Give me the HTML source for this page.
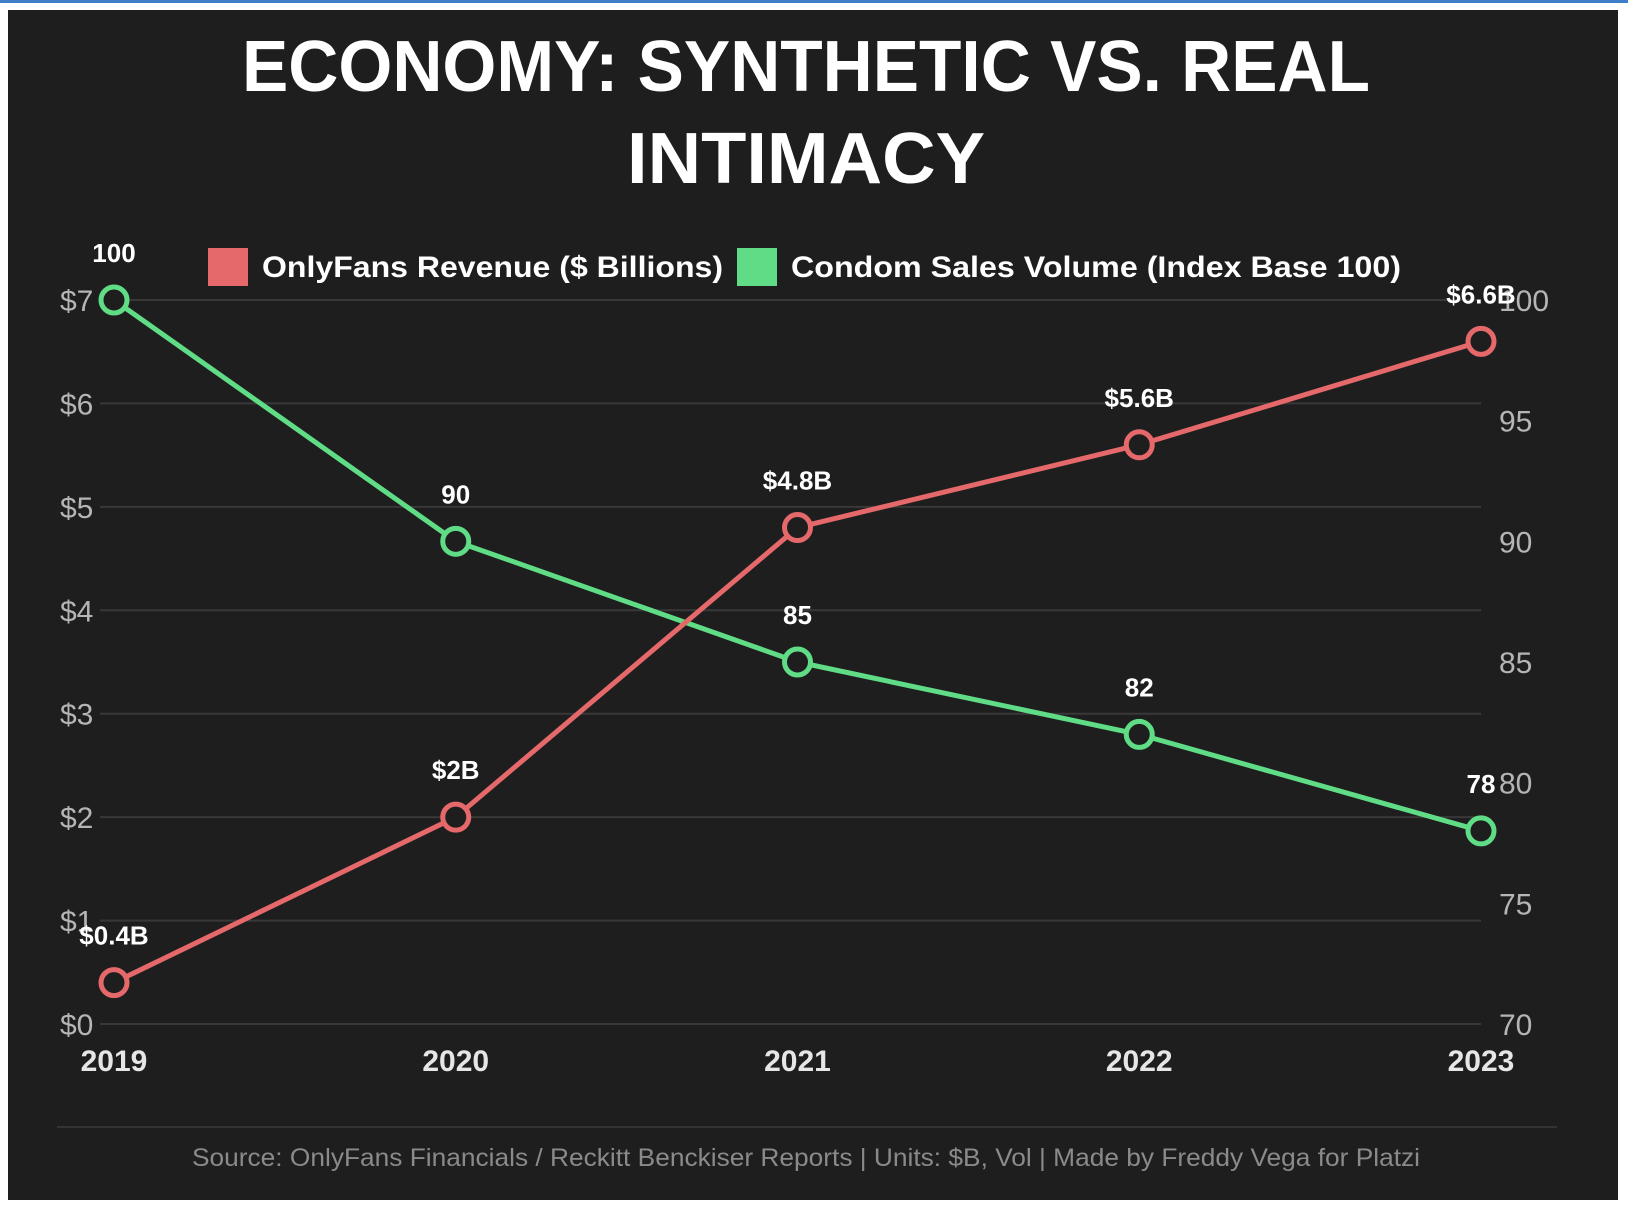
<!DOCTYPE html>
<html><head><meta charset="utf-8"><style>
html,body{margin:0;padding:0;background:#fff;width:1628px;height:1208px;overflow:hidden}
svg{display:block}
text{font-family:"Liberation Sans",sans-serif}
</style></head><body>
<svg width="1628" height="1208" viewBox="0 0 1628 1208">
<rect x="0" y="0" width="1628" height="3" fill="#3d7dca"/>
<rect x="8" y="10" width="1610" height="1190" fill="#1e1e1e"/>
<text x="806" y="91" text-anchor="middle" fill="#fff" font-weight="bold" font-size="72" textLength="1128" lengthAdjust="spacingAndGlyphs">ECONOMY: SYNTHETIC VS. REAL</text>
<text x="806" y="183" text-anchor="middle" fill="#fff" font-weight="bold" font-size="72" textLength="358" lengthAdjust="spacingAndGlyphs">INTIMACY</text>
<g>
<rect x="208" y="248" width="40" height="38" fill="#e5696a"/>
<text x="262" y="277" fill="#fff" font-weight="bold" font-size="30" textLength="461" lengthAdjust="spacingAndGlyphs">OnlyFans Revenue ($ Billions)</text>
<rect x="737" y="248" width="40" height="38" fill="#5fdc85"/>
<text x="791" y="277" fill="#fff" font-weight="bold" font-size="30" textLength="610" lengthAdjust="spacingAndGlyphs">Condom Sales Volume (Index Base 100)</text>
</g>
<g id="grid"></g><g id="axes"></g><g id="series"></g><g id="labels"></g>
<line x1="57" y1="1127" x2="1557" y2="1127" stroke="#333" stroke-width="2"/>
<text x="806" y="1166" text-anchor="middle" fill="#8a8a8a" font-size="25" textLength="1228" lengthAdjust="spacingAndGlyphs">Source: OnlyFans Financials / Reckitt Benckiser Reports | Units: $B, Vol | Made by Freddy Vega for Platzi</text>
</svg>
<script>
const years = ["2019","2020","2021","2022","2023"];
const revenue = [0.4, 2, 4.8, 5.6, 6.6];
const revenueLabels = ["$0.4B","$2B","$4.8B","$5.6B","$6.6B"];
const condom = [100, 90, 85, 82, 78];
const leftTicks = [0,1,2,3,4,5,6,7];
const rightTicks = [70,75,80,85,90,95,100];

const NS = "http://www.w3.org/2000/svg";
const X0 = 114, X1 = 1481, YT = 300, YB = 1024;
const xs = i => X0 + (X1 - X0) * i / (years.length - 1);
const yL = v => YB - (YB - YT) * v / 7;
const yR = v => YB - (YB - YT) * (v - 70) / 30;
function mk(tag, attrs, parent, txt){
  const e = document.createElementNS(NS, tag);
  for (const k in attrs) e.setAttribute(k, attrs[k]);
  if (txt !== undefined) e.textContent = txt;
  document.getElementById(parent).appendChild(e);
  return e;
}
leftTicks.forEach(t => {
  const g = mk("line", {x1:100, x2:X1, y1:yL(t), y2:yL(t), stroke:"#383838", "stroke-width":2}, "grid");
  
  
  const l = mk("text", {x:60, y:yL(t)+11, fill:"#b5b5b5", "font-size":30}, "axes", "$" + t);
  
  
});
rightTicks.forEach(t => {
  const l = mk("text", {x:1499, y:yR(t)+11, fill:"#b5b5b5", "font-size":30}, "axes", String(t));
  
  
});
years.forEach((y, i) => {
  const l = mk("text", {x:xs(i), y:1071, fill:"#e6e6e6", "font-size":30, "font-weight":"bold", "text-anchor":"middle"}, "axes", y);
  
  
});
function series(vals, yf, color, name, labels){
  const p = mk("polyline", {points: vals.map((v,i)=>xs(i)+","+yf(v)).join(" "), fill:"none", stroke:color, "stroke-width":5, "stroke-linejoin":"round"}, "series");
  
  
  vals.forEach((v,i) => {
    const c = mk("circle", {cx:xs(i), cy:yf(v), r:13, fill:"#1e1e1e", stroke:color, "stroke-width":5}, "series");
    
    
    const t = mk("text", {x:xs(i), y:yf(v)-38, fill:"#fff", "font-size":26, "font-weight":"bold", "text-anchor":"middle"}, "labels", labels[i]);
    
    
  });
}
series(condom, yR, "#5fdc85", "condom", condom.map(String));
series(revenue, yL, "#e5696a", "revenue", revenueLabels);
</script>
</body></html>
